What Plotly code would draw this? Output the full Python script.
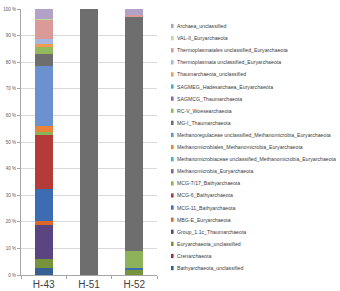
import plotly.graph_objects as go

samples = ["H-43", "H-51", "H-52"]

# stacking order bottom -> top
taxa = [
    "Bathyarchaeota_unclassified",
    "Crenarchaeota",
    "Euryarchaeota_unclassified",
    "Group_1.1c_Thaumarchaeota",
    "MBG-E_Euryarchaeota",
    "MCG-11_Bathyarchaeota",
    "MCG-6_Bathyarchaeota",
    "MCG-7/17_Bathyarchaeota",
    "Methanomicrobia_Euryarchaeota",
    "Methanomicrobiaceae unclassified_Methanomicrobia_Euryarchaeota",
    "Methanomicrobiales_Methanomicrobia_Euryarchaeota",
    "Methanoregulaceae unclassified_Methanomicrobia_Euryarchaeota",
    "MG-I_Thaumarchaeota",
    "RC-V_Woesearchaeota",
    "SAGMCG_Thaumarchaeota",
    "SAGMEG_Hadesarchaea_Euryarchaeota",
    "Thaumarchaeota_unclassified",
    "Thermoplasmata unclassified_Euryarchaeota",
    "Thermoplasmatales unclassified_Euryarchaeota",
    "VAL-II_Euryarchaeota",
    "Archaea_unclassified",
]

h43 = [2.7, 0.0, 3.3, 12.9, 1.5, 11.8, 20.4, 1.0, 0.0, 0.0, 2.5, 22.5, 4.5, 2.5, 0.0, 0.0, 1.2, 1.8, 7.3, 0.3, 3.8]
h51 = [0.0, 0.0, 0.0, 0.0, 0.0, 0.0, 0.0, 0.0, 0.0, 0.0, 0.0, 0.0, 100.0, 0.0, 0.0, 0.0, 0.0, 0.0, 0.0, 0.0, 0.0]
h52 = [0.0, 0.0, 1.8, 0.0, 0.0, 0.8, 0.0, 6.4, 0.0, 0.0, 0.0, 0.0, 88.1, 0.0, 0.0, 0.0, 0.0, 0.0, 0.6, 0.0, 2.3]

colors = [
    "#376092", "#953735", "#77933C", "#5B4580", "#D9692A", "#3E6CB3", "#B33B38",
    "#8DB25A", "#7B62A3", "#4BACC6", "#E8833A", "#6C91CF", "#6E6E6E", "#93B85E",
    "#7E6BA8", "#4BACC6", "#F39A55", "#A6B6DE", "#D99A98", "#C3D69B", "#B3A2C7",
]

tick_vals = [0, 10, 20, 30, 40, 50, 60, 70, 80, 90, 100]
tick_text = ["0 %", "10 %", "20 %", "30 %", "40 %", "50 %", "60 %", "70 %", "80 %", "90 %", "100 %"]

fig = go.Figure()
for i, name in enumerate(taxa):
    fig.add_trace(go.Bar(
        x=samples, y=[h43[i], h51[i], h52[i]], name=name,
        marker=dict(color=colors[i], line=dict(width=0)),
        showlegend=False,
    ))

# manual legend (top item = last taxon)
leg_top = 0.936
leg_step = 0.0455
for k, i in enumerate(reversed(range(len(taxa)))):
    yy = leg_top - k * leg_step
    fig.add_shape(type="rect", xref="paper", yref="paper",
                  x0=1.103, x1=1.122, y0=yy - 0.008, y1=yy + 0.008,
                  fillcolor=colors[i], line=dict(width=0))
    fig.add_annotation(xref="paper", yref="paper", x=1.132, y=yy,
                       text=taxa[i], showarrow=False, xanchor="left", yanchor="middle",
                       font=dict(size=5.2, color="#404040", family="Liberation Sans"))

fig.update_layout(
    barmode="stack",
    bargap=0.6,
    width=340, height=291,
    margin=dict(l=21, r=183, t=9, b=16, autoexpand=False),
    paper_bgcolor="white", plot_bgcolor="white",
    font=dict(family="Liberation Sans", color="#404040"),
)
fig.update_yaxes(range=[0, 100], tickvals=tick_vals, ticktext=tick_text,
                 tickfont=dict(size=4.5, color="#595959"), automargin=False,
                 showgrid=True, gridcolor="#D9D9D9", gridwidth=1,
                 showline=True, linecolor="#A6A6A6", ticks="outside", ticklen=3,
                 tickcolor="#A6A6A6", zeroline=False)
fig.update_xaxes(tickfont=dict(size=10, color="#404040"), showline=True, automargin=False,
                 linecolor="#A6A6A6", ticks="outside", tickson="boundaries",
                 ticklen=3, tickcolor="#A6A6A6")

fig.write_html("out.html")
